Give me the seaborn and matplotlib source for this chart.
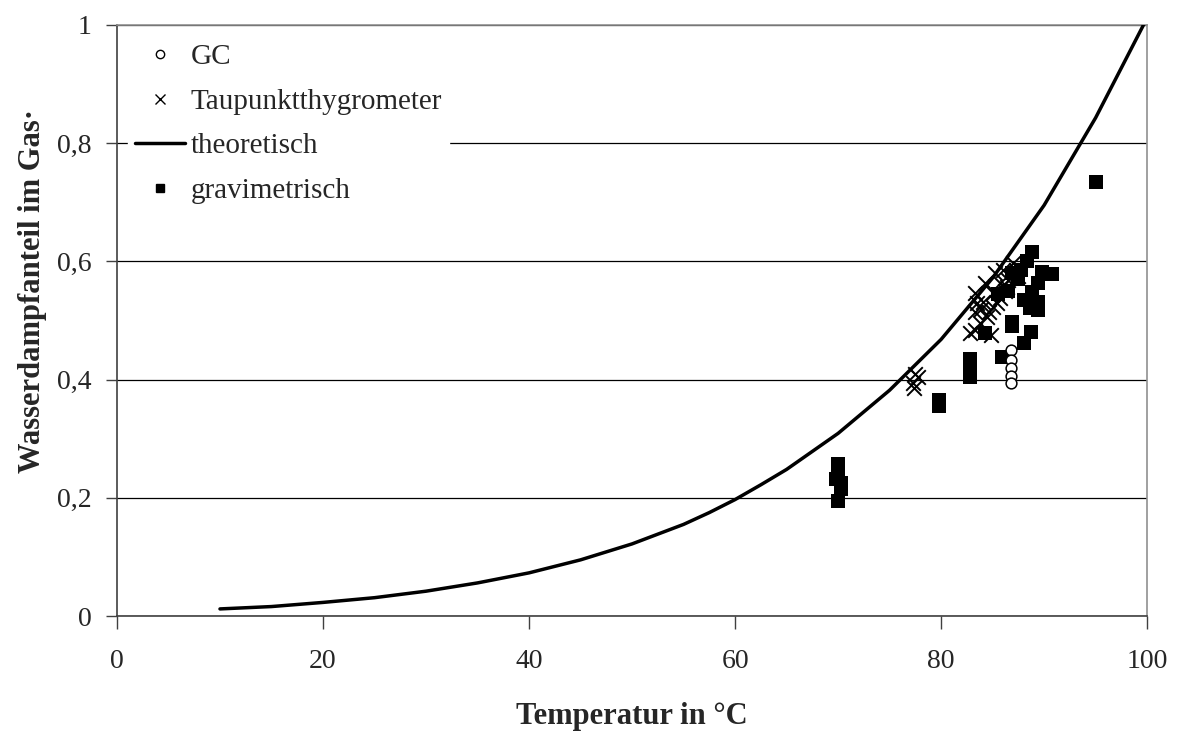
import numpy as np
import pandas as pd
import seaborn as sns
import matplotlib.pyplot as plt
from matplotlib.lines import Line2D
from matplotlib.ticker import FuncFormatter

sns.set_style("white")
plt.rcParams['font.family'] = ['Liberation Serif', 'DejaVu Serif']

# theoretische Kurve (Sättigungsdampfdruck / Gesamtdruck)
t_theo = [10, 15, 20, 25, 30, 35, 40, 45, 50, 55, 57.5, 60, 62.5, 65, 70, 75, 80, 85, 90, 95, 100]
y_theo = [0.012, 0.016, 0.023, 0.031, 0.042, 0.056, 0.073, 0.095, 0.122, 0.155, 0.175, 0.197, 0.222,
          0.248, 0.309, 0.382, 0.468, 0.572, 0.695, 0.843, 1.012]

# GC
t_gc = [86.8, 86.8, 86.8, 86.8, 86.8]
y_gc = [0.450, 0.433, 0.420, 0.406, 0.394]

# Taupunktthygrometer
t_tp = [77.5, 77.8, 77.3, 77.4, 82.8, 83.3, 84.8, 83.3, 83.5, 83.3, 84.3, 85.2, 86.0, 87.0, 86.9,
        86.4, 85.7, 85.0, 84.5, 83.8, 84.1, 85.0, 85.7, 86.5, 87.3, 83.9, 84.6, 85.4, 86.2, 87.5]
y_tp = [0.410, 0.405, 0.395, 0.385, 0.479, 0.484, 0.475, 0.514, 0.530, 0.546, 0.563, 0.580, 0.585,
        0.597, 0.574, 0.557, 0.538, 0.523, 0.506, 0.496, 0.531, 0.546, 0.563, 0.568, 0.585, 0.520,
        0.515, 0.530, 0.550, 0.575]

# gravimetrisch
t_gr = [88.8, 88.3, 89.8, 90.8, 89.4, 88.8, 88.0, 89.4, 88.6, 89.4, 86.9, 86.9, 88.7, 88.0, 85.9,
        82.8, 82.8, 82.8, 82.8, 79.8, 79.8, 70.0, 70.0, 70.3, 70.3, 70.0, 69.8,
        95.0, 84.3, 86.5, 87.5, 87.8, 85.5, 86.9]
y_gr = [0.616, 0.600, 0.582, 0.578, 0.563, 0.548, 0.535, 0.531, 0.521, 0.518, 0.497, 0.490, 0.480,
        0.462, 0.438, 0.435, 0.425, 0.410, 0.405, 0.365, 0.355, 0.258, 0.235, 0.225, 0.215, 0.195,
        0.232, 0.735, 0.478, 0.550, 0.570, 0.585, 0.545, 0.580]

theo = pd.DataFrame({'T': t_theo, 'y': y_theo})
gc = pd.DataFrame({'T': t_gc, 'y': y_gc})
tp = pd.DataFrame({'T': t_tp, 'y': y_tp})
gr = pd.DataFrame({'T': t_gr, 'y': y_gr})

fig = plt.figure(figsize=(11.79, 7.33), dpi=100)
ax = fig.add_axes([0.0992, 0.1596, 0.8738, 0.8064])

ax.grid(axis='y', color='black', linewidth=0.9)
ax.set_axisbelow(True)

sns.lineplot(data=theo, x='T', y='y', color='black', linewidth=2.5, ax=ax, zorder=3)
sns.scatterplot(data=gr, x='T', y='y', marker='s', color='black', s=95, linewidth=0, ax=ax, zorder=4)
sns.scatterplot(data=tp, x='T', y='y', marker='x', color='black', s=110, linewidth=1.4, ax=ax, zorder=5)
sns.scatterplot(data=gc, x='T', y='y', marker='o', facecolor='white', edgecolor='black', s=60,
                linewidth=1.1, ax=ax, zorder=6)

ax.set_xlim(0, 100)
ax.set_ylim(0, 1)
ax.set_xticks([0, 20, 40, 60, 80, 100])
ax.set_yticks([0, 0.2, 0.4, 0.6, 0.8, 1])
ax.yaxis.set_major_formatter(FuncFormatter(lambda v, p: ('%g' % v).replace('.', ',')))

for s in ['left', 'bottom']:
    ax.spines[s].set_color('#404040')
    ax.spines[s].set_linewidth(1.2)
for s in ['top', 'right']:
    ax.spines[s].set_color('#909090')
    ax.spines[s].set_linewidth(1.2)

ax.tick_params(axis='x', direction='out', length=9, width=1, color='#404040', pad=15, labelsize=20,
               bottom=True)
ax.tick_params(axis='y', direction='out', length=8, width=1, color='#404040', pad=10, labelsize=20,
               left=True)

ax.set_xlabel('Temperatur in °C', fontsize=22, fontweight='bold', labelpad=20)
ax.set_ylabel('Wasserdampfanteil im Gas·', fontsize=22, fontweight='bold')
ax.yaxis.set_label_coords(-0.068, 0.55)

handles = [
    Line2D([], [], marker='o', linestyle='none', markerfacecolor='white', markeredgecolor='black',
           markersize=6, markeredgewidth=1),
    Line2D([], [], marker='x', linestyle='none', color='black', markersize=7, markeredgewidth=1),
    Line2D([], [], color='black', linewidth=2.5),
    Line2D([], [], marker='s', linestyle='none', color='black', markersize=6),
]
labels = ['GC', 'Taupunktthygrometer', 'theoretisch', 'gravimetrisch']
leg = ax.legend(handles, labels, loc='upper left', bbox_to_anchor=(0.005, 0.99), frameon=True,
                fontsize=21, handlelength=1.7, handletextpad=0.2, labelspacing=0.62,
                borderaxespad=0.2, borderpad=0.25)
leg.get_frame().set_facecolor('white')
leg.get_frame().set_edgecolor('white')
leg.get_frame().set_alpha(1)
leg.set_zorder(10)

fig.savefig('out.png', dpi=100)
